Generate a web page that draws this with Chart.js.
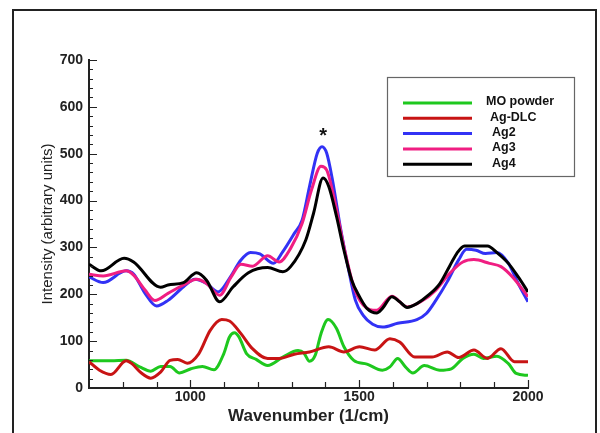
<!DOCTYPE html>
<html>
<head>
<meta charset="utf-8">
<script src="https://cdn.jsdelivr.net/npm/chart.js@4"></script>
<style>
  body { margin: 0; background: #fff; }
</style>
</head>
<body>
<canvas id="raman" width="600" height="433"></canvas>
<script>
    // wavenumber (x) and intensity (y) for each spectrum
    const moX  = [700, 765, 810, 850, 883, 912, 940, 968, 1002, 1036, 1070, 1099, 1116, 1131, 1144, 1167, 1195, 1229, 1274, 1319, 1336, 1353, 1370, 1387, 1408, 1433, 1455, 1484, 1523, 1569, 1591, 1614, 1637, 1659, 1693, 1739, 1773, 1807, 1840, 1868, 1908, 1942, 1965, 2000];
    const moY  = [58, 58, 59, 45, 36, 46, 46, 32, 41, 46, 39, 73, 109, 118, 109, 73, 61, 48, 66, 80, 75, 57, 70, 116, 146, 127, 88, 59, 51, 38, 45, 63, 45, 32, 48, 38, 41, 63, 72, 63, 68, 52, 31, 27];

    const dlcX = [700, 731, 765, 810, 827, 855, 883, 912, 940, 963, 991, 1025, 1059, 1093, 1116, 1150, 1184, 1229, 1263, 1308, 1353, 1410, 1455, 1501, 1546, 1591, 1620, 1665, 1716, 1761, 1795, 1840, 1880, 1920, 1960, 2000];
    const dlcY = [56, 38, 29, 58, 52, 32, 21, 34, 59, 61, 53, 73, 123, 146, 143, 116, 84, 63, 63, 72, 77, 88, 77, 88, 81, 105, 98, 66, 66, 77, 65, 81, 63, 84, 56, 56];

    const ag2X = [700, 742, 810, 832, 866, 900, 934, 980, 1014, 1048, 1082, 1116, 1150, 1178, 1206, 1246, 1274, 1308, 1331, 1353, 1376, 1390, 1404, 1421, 1444, 1467, 1489, 1512, 1540, 1569, 1614, 1671, 1699, 1727, 1761, 1795, 1818, 1846, 1874, 1908, 1942, 1971, 2000];
    const ag2Y = [237, 225, 250, 243, 202, 175, 187, 216, 232, 223, 205, 234, 273, 289, 286, 266, 291, 330, 358, 430, 501, 515, 501, 444, 344, 259, 187, 155, 136, 130, 138, 146, 159, 187, 227, 274, 296, 294, 287, 289, 266, 223, 184];

    const ag3X = [700, 742, 810, 832, 866, 895, 934, 980, 1019, 1048, 1087, 1121, 1150, 1184, 1229, 1263, 1297, 1331, 1359, 1387, 1404, 1427, 1455, 1484, 1512, 1552, 1597, 1642, 1682, 1727, 1767, 1807, 1840, 1886, 1920, 1954, 2000];
    const ag3Y = [243, 239, 250, 241, 209, 187, 202, 220, 232, 223, 198, 237, 264, 260, 282, 269, 298, 351, 423, 473, 465, 401, 301, 216, 177, 166, 196, 173, 184, 209, 244, 269, 274, 266, 259, 237, 195];

    const ag4X = [700, 736, 804, 832, 912, 934, 980, 1019, 1048, 1087, 1127, 1172, 1229, 1274, 1297, 1342, 1365, 1393, 1410, 1433, 1455, 1478, 1501, 1523, 1552, 1569, 1597, 1620, 1642, 1671, 1705, 1739, 1767, 1789, 1812, 1852, 1880, 1908, 1942, 1971, 2000];
    const ag4Y = [264, 250, 277, 269, 215, 220, 225, 246, 230, 184, 216, 246, 257, 248, 259, 316, 373, 448, 430, 366, 294, 230, 195, 170, 160, 170, 195, 184, 172, 180, 198, 223, 259, 287, 303, 303, 303, 289, 266, 237, 205];

    const seriesNames = ["MO powder", "Ag-DLC", "Ag2", "Ag3", "Ag4"];
    const xTickLabels = [1000, 1500, 2000];
    const yTickLabels = [0, 100, 200, 300, 400, 500, 600, 700];
    const peakMark = { x: 1393, y: 545, text: "*" };

    const colors = ["rgb(30,200,30)", "rgb(200,20,20)", "rgb(50,50,245)", "rgb(240,30,130)", "rgb(0,0,0)"];

    function pts(xs, ys) {
        return xs.map((x, i) => ({ x: x, y: ys[i] }));
    }

    const allData = [pts(moX, moY), pts(dlcX, dlcY), pts(ag2X, ag2Y), pts(ag3X, ag3Y), pts(ag4X, ag4Y)];

    const dataObj = {
        datasets: allData.map((d, i) => ({
            label: seriesNames[i],
            data: d,
            borderColor: colors[i],
            backgroundColor: colors[i],
            borderWidth: 3,
            pointRadius: 0,
            cubicInterpolationMode: "monotone",
            order: 4 - i            // Ag4 ends up on top
        }))
    };

    // outer frame, inward tick marks, the star and the boxed legend
    const extras = {
        id: "extras",
        beforeDraw(chart) {
            const ctx = chart.ctx;
            ctx.save();
            ctx.fillStyle = "#fff";
            ctx.fillRect(0, 0, chart.width, chart.height);
            ctx.strokeStyle = "#222";
            ctx.lineWidth = 2;
            ctx.strokeRect(13, 10, 583, 440);
            ctx.restore();
        },
        afterDraw(chart) {
            const ctx = chart.ctx;
            const xs = chart.scales.x, ys = chart.scales.y;
            const left = chart.chartArea.left, bottom = chart.chartArea.bottom;
            ctx.save();
            ctx.strokeStyle = "#222";
            ctx.lineWidth = 1.2;
            ctx.beginPath();
            for (let v = 0; v <= 700; v += 20) {
                const y = Math.round(ys.getPixelForValue(v)) + 0.5;
                ctx.moveTo(left, y);
                ctx.lineTo(left + (v % 100 === 0 ? 8 : 4), y);
            }
            for (let v = 800; v <= 2000; v += 100) {
                const x = Math.round(xs.getPixelForValue(v)) + 0.5;
                ctx.moveTo(x, bottom);
                ctx.lineTo(x, bottom - (v % 500 === 0 ? 8 : 6));
            }
            ctx.stroke();

            ctx.fillStyle = "#111";
            ctx.font = "bold 20px 'Liberation Sans', Arial";
            ctx.textAlign = "center";
            ctx.textBaseline = "middle";
            ctx.fillText(peakMark.text, xs.getPixelForValue(peakMark.x), ys.getPixelForValue(peakMark.y) + 4);

            // legend box
            ctx.strokeStyle = "#666";
            ctx.lineWidth = 1.2;
            ctx.strokeRect(387.5, 77.5, 187, 99);
            ctx.font = "bold 12.5px 'Liberation Sans', Arial";
            ctx.textAlign = "left";
            const shift = [0, 4, 6, 6, 6];
            seriesNames.forEach((name, i) => {
                const y = 103 + i * 15.3;
                ctx.strokeStyle = colors[i];
                ctx.lineWidth = 3;
                ctx.beginPath();
                ctx.moveTo(403, y);
                ctx.lineTo(472, y);
                ctx.stroke();
                ctx.fillStyle = "#111";
                ctx.fillText(name, 486 + shift[i], y - 1);
            });
            ctx.restore();
        }
    };

    new Chart("raman", {
        type: "line",
        data: dataObj,
        plugins: [extras],
        options: {
            responsive: false,
            animation: false,
            layout: { padding: { left: 30, right: 72, top: 60, bottom: 0 } },
            plugins: {
                legend: { display: false },
                tooltip: { enabled: false }
            },
            scales: {
                x: {
                    type: "linear",
                    min: 700,
                    max: 2000,
                    afterBuildTicks: s => { s.ticks = xTickLabels.map(v => ({ value: v })); },
                    afterFit: s => { s.height = 45; },
                    grid: { display: false, drawTicks: false },
                    border: { display: true, color: "#222", width: 2 },
                    ticks: {
                        padding: 1,
                        color: "#222",
                        callback: v => String(v),
                        font: { family: "'Liberation Sans', Arial", size: 14, weight: "bold" }
                    },
                    title: {
                        display: true,
                        text: "Wavenumber (1/cm)",
                        color: "#222",
                        padding: { top: 0, bottom: 6 },
                        font: { family: "'Liberation Sans', Arial", size: 17, weight: "bold" }
                    }
                },
                y: {
                    min: 0,
                    max: 700,
                    afterBuildTicks: s => { s.ticks = yTickLabels.map(v => ({ value: v })); },
                    afterFit: s => { s.width = 59; },
                    grid: { display: false, drawTicks: false },
                    border: { display: true, color: "#222", width: 2 },
                    ticks: {
                        padding: 6,
                        color: "#222",
                        font: { family: "'Liberation Sans', Arial", size: 14, weight: "bold" }
                    },
                    title: {
                        display: true,
                        text: "Intensity (arbitrary units)",
                        color: "#222",
                        padding: { top: 9, bottom: 0 },
                        font: { family: "'Liberation Sans', Arial", size: 15 }
                    }
                }
            }
        }
    });
</script>
</body>
</html>
